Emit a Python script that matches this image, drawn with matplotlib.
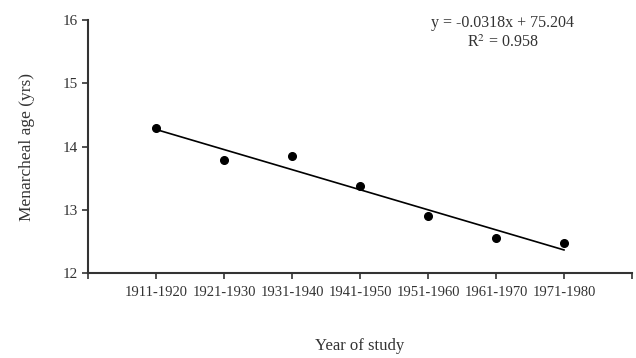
import numpy as np
import matplotlib
matplotlib.use('Agg')
import matplotlib.pyplot as plt

decades = ['1911-1920', '1921-1930', '1931-1940', '1941-1950',
           '1951-1960', '1961-1970', '1971-1980']
age = [14.29, 13.79, 13.85, 13.37, 12.90, 12.55, 12.47]
eq_text = 'y = -0.0318x + 75.204\nR$^2$ = 0.958'

plt.rcParams['font.family'] = ['Liberation Serif', 'DejaVu Serif']
plt.rcParams['mathtext.fontset'] = 'stix'


def main():
    fig = plt.figure(figsize=(6.36, 3.58), dpi=100)
    ax = fig.add_axes([0.1384, 0.2374, 0.8553, 0.7066])

    x = np.arange(1, len(decades) + 1)
    ax.plot(x, age, 'o', color='black', markersize=5.5, zorder=3)

    # linear trend
    k, b = np.polyfit(x, age, 1)
    ax.plot(x, k * x + b, '-', color='black', lw=1.2)

    ax.set_xlim(0, 8)
    ax.set_ylim(12, 16)
    ax.set_xticks(range(0, 9))
    ax.set_xticklabels([''] + decades + [''], fontsize=10.5, color='#333333')
    ax.set_yticks([12, 13, 14, 15, 16])
    ax.tick_params(axis='y', labelsize=11, length=4, width=1.2, colors='#333333')
    ax.tick_params(axis='x', length=4, width=1.2, pad=5, colors='#333333')

    for s in ['top', 'right']:
        ax.spines[s].set_visible(False)
    for s in ['left', 'bottom']:
        ax.spines[s].set_linewidth(1.5)
        ax.spines[s].set_color('#333333')

    ax.set_ylabel('Menarcheal age (yrs)', fontsize=12.5, color='#333333', labelpad=20)
    fig.text(0.566, 0.022, 'Year of study', fontsize=12, color='#333333', ha='center')
    fig.text(0.79, 0.87, eq_text, fontsize=11.5, color='#333333', ha='center',
             linespacing=1.2)

    fig.savefig('out.png', dpi=100)


if __name__ == '__main__':
    main()
